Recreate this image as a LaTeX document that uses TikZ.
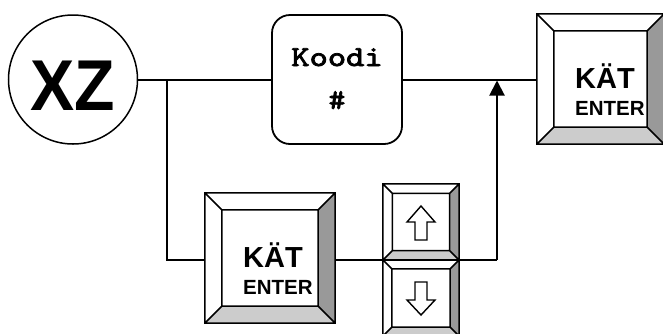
\documentclass[tikz,border=0pt]{standalone}
\usepackage{fontspec}
\setmainfont{Liberation Sans}
\newfontfamily\koodifont[FakeBold=2.5]{lmmono10-regular.otf}
\usetikzlibrary{calc,arrows.meta}
\definecolor{keyside}{HTML}{999999}
\definecolor{keybottom}{HTML}{CCCCCC}
\tikzset{
  keyline/.style={draw=black, line width=1.5pt, line join=miter},
  bigkey/.style={draw=none, minimum width=130pt, minimum height=130pt, inner sep=0pt},
  arrowkey/.style={draw=none, minimum width=76pt, minimum height=76pt, inner sep=0pt},
  conn/.style={draw=black, line width=2pt},
  keybig/.style={font=\bfseries\fontsize{29}{29}\selectfont, inner sep=0pt, anchor=base west},
  keysmall/.style={font=\bfseries\fontsize{20.5}{20.5}\selectfont, inner sep=0pt, anchor=base west},
  kooditext/.style={font=\koodifont\fontsize{29}{29}\selectfont, inner sep=0pt, anchor=base},
  hollow/.style={draw=black, line width=1.4pt, fill=white, line join=miter},
}
\newcommand\keybevel[2]{%
  \coordinate (o1) at (#1.north west);
  \coordinate (o2) at (#1.north east);
  \coordinate (o3) at (#1.south east);
  \coordinate (o4) at (#1.south west);
  \coordinate (i1) at ($(o1)+(#2,#2)$);
  \coordinate (i2) at ($(o2)+(-#2,#2)$);
  \coordinate (i3) at ($(o3)+(-#2,-#2)$);
  \coordinate (i4) at ($(o4)+(#2,-#2)$);
  \fill[white] (o1) rectangle (o3);
  \fill[keyside] (o2)--(o3)--(i3)--(i2)--cycle;
  \fill[keybottom] (o3)--(o4)--(i4)--(i3)--cycle;
  \draw[keyline] (o1) rectangle (o3) (i1) rectangle (i3)
    (o1)--(i1) (o2)--(i2) (o3)--(i3) (o4)--(i4);
}
\begin{document}
\begin{tikzpicture}[x=1pt,y=-1pt]
\useasboundingbox (0,0) rectangle (663,333);
% nodes
\node[circle, draw, line width=1.5pt, minimum size=129pt, inner sep=0pt] (xz) at (73,79.5) {};
\node[font=\bfseries\fontsize{72}{72}\selectfont, inner sep=0pt, anchor=base] (xzt) at (73,110) {\scalebox{0.92}[1]{XZ}};
\node[draw, line width=1.8pt, rounded corners=18pt, minimum width=130pt, minimum height=129pt, inner sep=0pt] (koodi) at (337,79.5) {};
\node[kooditext] (kt1) at (337,66) {\scalebox{1.2}[1]{Koodi}};
\node[kooditext] (kt2) at (337,109) {\scalebox{1.1}[1]{\#}};
% keys
\node[bigkey, minimum width=127pt] (kA) at (600.5,79) {};
\keybevel{kA}{17}
\node[keybig] (kAt1) at (575,88) {KÄT};
\node[keysmall] (kAt2) at (575,115) {ENTER};
\node[bigkey] (kB) at (270,258) {};
\keybevel{kB}{17}
\node[keybig] (kBt1) at (243,267) {KÄT};
\node[keysmall] (kBt2) at (243,294) {ENTER};
\node[arrowkey] (kU) at (421,222) {};
\keybevel{kU}{9.5}
\draw[hollow] (kU.center) ++(0,-16) -- ++(14,16) -- ++(-8,0) -- ++(0,18) -- ++(-12,0) -- ++(0,-18) -- ++(-8,0) -- cycle;
\node[arrowkey] (kD) at (421,298) {};
\keybevel{kD}{9}
\draw[hollow] (kD.center) ++(-6,-16) -- ++(12,0) -- ++(0,18) -- ++(8,0) -- ++(-14,15) -- ++(-14,-15) -- ++(8,0) -- cycle;
% connectors
\coordinate (j1) at (167,79.5);
\coordinate (bl) at (167,260);
\coordinate (br) at (497,260);
\coordinate (jt) at (497,79.5);
\draw[conn] (xz.east) -- (koodi.west);
\draw[conn] (koodi.east) -- (kA.west |- koodi.east);
\draw[conn] (j1) -- (bl) -- (bl -| kB.west);
\draw[conn] (bl -| kB.east) -- (br);
\draw[conn, -{Triangle[length=15pt,width=15pt]}] (br) -- ($(jt)+(0,1)$);
\end{tikzpicture}
\end{document}
